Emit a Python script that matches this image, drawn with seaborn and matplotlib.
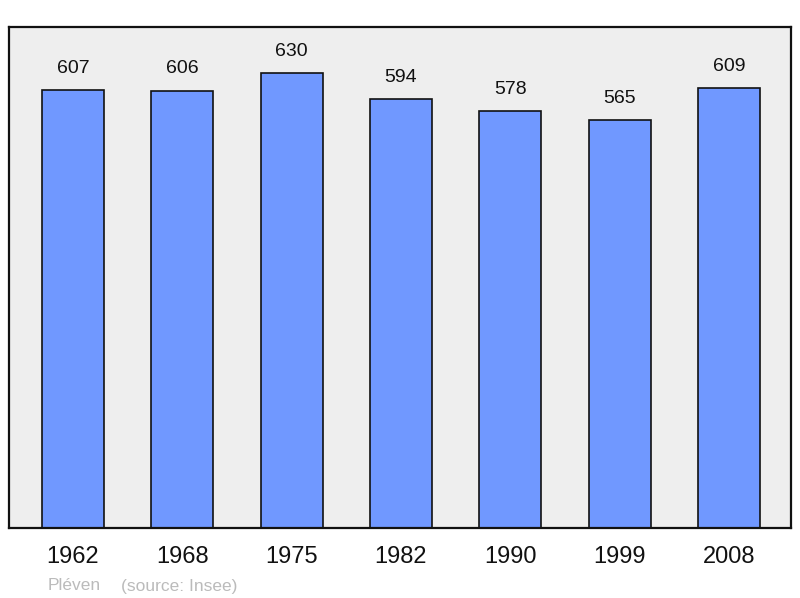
import matplotlib
matplotlib.use("Agg")
import matplotlib.pyplot as plt
import seaborn as sns
import pandas as pd

years = ["1962", "1968", "1975", "1982", "1990", "1999", "2008"]
population = [607, 606, 630, 594, 578, 565, 609]
commune = "Pléven"
source = "(source: Insee)"

sns.set_theme(style="white")
plt.rcParams['font.family'] = ['Liberation Sans', 'DejaVu Sans']

df = pd.DataFrame({"year": years, "pop": population})

fig = plt.figure(figsize=(8, 5.98), dpi=100)
ax = fig.add_axes([9/800, 70/598, 782/800, 501/598])
ax.set_facecolor("#EEEEEE")

sns.barplot(data=df, x="year", y="pop", color="#7098FF", saturation=1,
            width=0.567, edgecolor="#111111", linewidth=1.2, ax=ax, zorder=2)

for i, v in enumerate(population):
    ax.annotate(str(v), xy=(i, v), xytext=(0, 9.5), textcoords="offset points",
                ha="center", va="bottom", fontsize=14, color="#111111")

ax.set_xlim(-0.585, 6.568)
ax.set_ylim(0, 694)
ax.set_xlabel("")
ax.set_ylabel("")
ax.set_yticks([])
ax.tick_params(axis="x", length=0, labelsize=17, pad=13, colors="#111111")
for s in ax.spines.values():
    s.set_color("#111111")
    s.set_linewidth(1.6)

fig.text(48/800, 1 - 586/598, commune, fontsize=12.5, color="#BBBBBB", va="center")
fig.text(121/800, 1 - 586/598, source, fontsize=12.5, color="#BBBBBB", va="center")

fig.savefig("out.png", dpi=100)
